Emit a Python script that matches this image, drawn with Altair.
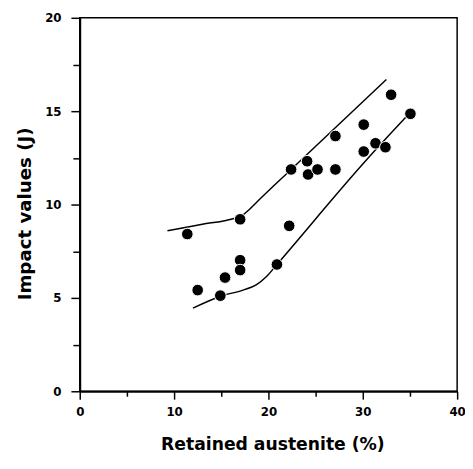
import altair as alt
import pandas as pd

# Scatter data: retained austenite (%) vs impact values (J)
pts_x = [11.4, 12.5, 14.9, 15.4, 17.0, 17.0, 17.0, 20.9, 22.2, 22.4, 24.1,
         24.2, 25.2, 27.1, 27.1, 30.1, 30.1, 31.35, 32.4, 33.0, 35.05]
pts_y = [8.42, 5.42, 5.12, 6.09, 9.21, 7.02, 6.49, 6.79, 8.86, 11.88, 12.32,
         11.61, 11.88, 13.67, 11.88, 14.28, 12.84, 13.28, 13.07, 15.88, 14.86]

# Upper and lower band lines
up_x = [9.3, 13.0, 15.5, 16.5, 17.3, 18.0, 18.8, 22.4, 32.5]
up_y = [8.6, 8.95, 9.15, 9.28, 9.45, 9.75, 10.15, 11.88, 16.7]
lo_x = [12.0, 15.0, 17.3, 18.7, 19.8, 21.0, 30.5, 34.7]
lo_y = [4.45, 5.1, 5.42, 5.7, 6.15, 6.85, 12.45, 14.75]

x_ticks = [0, 5, 10, 15, 20, 25, 30, 35, 40]
y_ticks = [0, 2.5, 5, 7.5, 10, 12.5, 15, 17.5, 20]

pts = pd.DataFrame({"x": pts_x, "y": pts_y})
lines = pd.concat([
    pd.DataFrame({"x": up_x, "y": up_y, "band": "upper", "o": range(len(up_x))}),
    pd.DataFrame({"x": lo_x, "y": lo_y, "band": "lower", "o": range(len(lo_x))}),
])

FONT = "DejaVu Sans"

xscale = alt.Scale(domain=[0, 40], nice=False, zero=False)
yscale = alt.Scale(domain=[0, 20], nice=False, zero=False)

xaxis = alt.Axis(
    values=x_ticks,
    labelExpr="datum.value % 10 === 0 ? datum.label : ''",
    title="Retained austenite (%)",
    grid=False,
    domainColor="black", domainWidth=2,
    tickColor="black", tickWidth=1.5,
    tickSize={"condition": {"test": "datum.value % 10 === 0", "value": 8}, "value": 5},
    labelFont=FONT, labelFontSize=12, labelFontWeight="bold", labelColor="black",
    labelPadding=8, labelFlush=False, labelOverlap=False,
    titleFont=FONT, titleFontSize=17.5, titleFontWeight="bold", titleColor="black",
    titleBaseline="alphabetic", titleX=196, titleY=59,
)
yaxis = alt.Axis(
    values=y_ticks,
    labelExpr="datum.value % 5 === 0 ? datum.label : ''",
    title="Impact values (J)",
    grid=False,
    domainColor="black", domainWidth=2,
    tickColor="black", tickWidth=1.5,
    tickSize={"condition": {"test": "datum.value % 5 === 0", "value": 9}, "value": 7},
    labelFont=FONT, labelFontSize=12, labelFontWeight="bold", labelColor="black",
    labelPadding=10, labelFlush=False, labelOverlap=False,
    titleFont=FONT, titleFontSize=18.5, titleFontWeight="bold", titleColor="black",
    titleBaseline="alphabetic", titleX=-50, titleY=199, titleAngle=270,
)

line_layer = alt.Chart(lines).mark_line(
    color="black", strokeWidth=1.5, interpolate="monotone"
).encode(
    x=alt.X("x:Q", scale=xscale, axis=xaxis),
    y=alt.Y("y:Q", scale=yscale, axis=yaxis),
    detail="band:N",
    order="o:Q",
)

point_layer = alt.Chart(pts).mark_point(
    filled=True, shape="circle", size=140, opacity=1,
    fill="black", stroke="white", strokeWidth=1,
).encode(
    x=alt.X("x:Q", scale=xscale),
    y=alt.Y("y:Q", scale=yscale),
)

chart = alt.layer(line_layer, point_layer).properties(
    width=384, height=380,
    autosize=alt.AutoSizeParams(type="none"),
    padding={"left": 73, "top": 6, "right": 8, "bottom": 70},
    background="white",
).configure_view(
    stroke="black", strokeWidth=1.5
)

chart.save("out.html", embed_options={"renderer": "svg", "actions": False})
